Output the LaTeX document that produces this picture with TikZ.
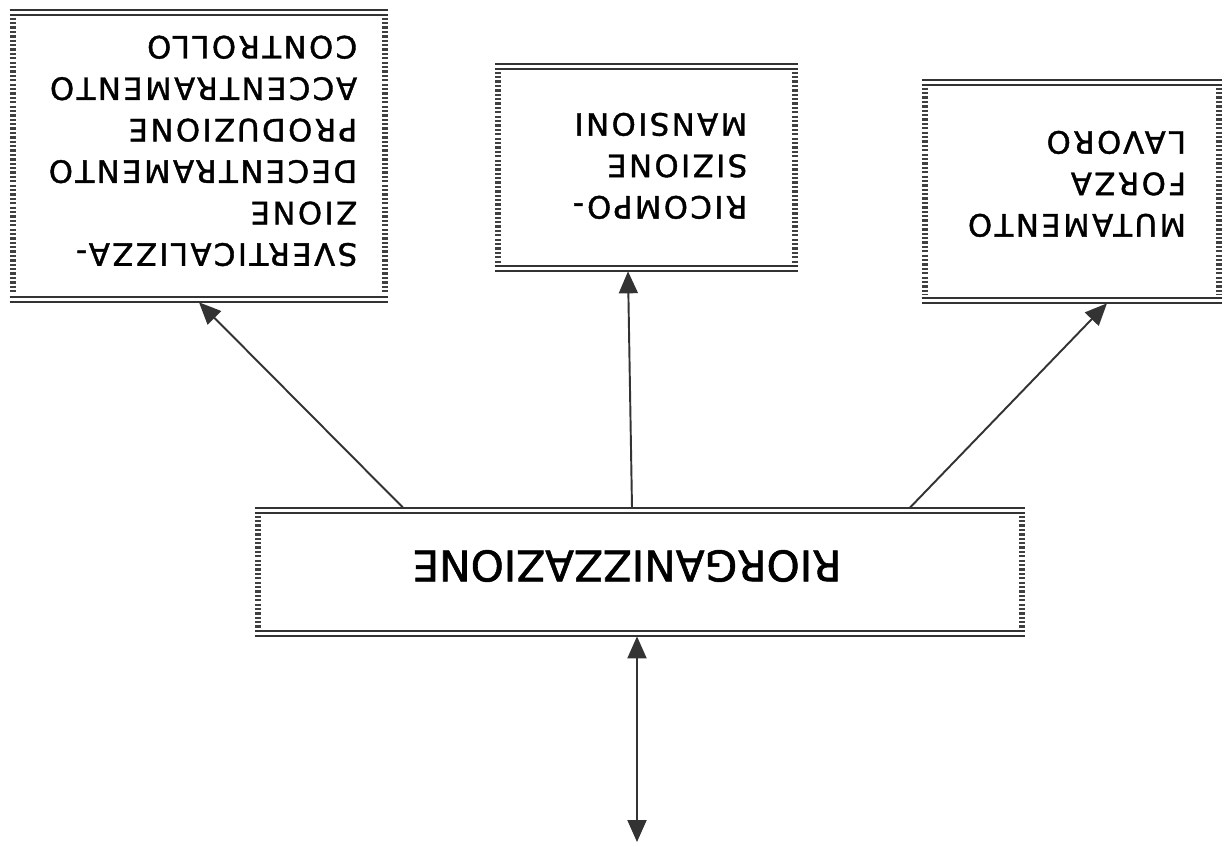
\documentclass[tikz,border=0pt]{standalone}
\usepackage{fontspec}
\setmainfont{DejaVu Sans}
\newfontfamily\boxfont[LetterSpace=8,FakeBold=1.3]{DejaVu Sans}
\newfontfamily\bigfont[FakeBold=1.3]{DejaVu Sans}
\usetikzlibrary{arrows.meta}
\newcommand{\upside}[1]{\rotatebox[origin=c]{180}{\begin{tabular}{@{}l@{}}#1\end{tabular}}}

\begin{document}
\begin{tikzpicture}[
  x=0.02cm, y=-0.02cm,
  box/.style={inner sep=0pt},
  txt/.style={inner sep=0pt, font=\boxfont\fontsize{17.5}{23.6}\selectfont},
  hline/.style={line width=1.1pt, draw=black!80},
  vhatch/.style={line width=0.12cm, draw=black!75, dash pattern=on 1.3pt off 1.2pt},
  tip/.style={-{Triangle[length=0.44cm,width=0.38cm]}},
  arr/.style={line width=1.1pt, draw=black!80, tip}
]
\useasboundingbox (0,0) rectangle (1225,846);

% boxes
\node[box, minimum width=7.56cm, minimum height=5.84cm] (sv) at (199,156) {};
\node[box, minimum width=6.06cm, minimum height=4.14cm] (rc) at (646.5,167.5) {};
\node[box, minimum width=6.0cm, minimum height=4.46cm] (mu) at (1072,191.5) {};
\node[box, minimum width=15.4cm, minimum height=2.56cm] (ri) at (640,572) {};

% texts
\node[txt] (svt) at (203,148)
  {\upside{SVERTICALIZZA-\\ZIONE\\DECENTRAMENTO\\PRODUZIONE\\ACCENTRAMENTO\\CONTROLLO}};
\node[txt] (rct) at (660,163) {\upside{RICOMPO-\\SIZIONE\\MANSIONI}};
\node[txt] (mut) at (1077,181) {\upside{MUTAMENTO\\FORZA\\LAVORO}};
\node[inner sep=0pt, font=\bigfont\fontsize{24}{28}\selectfont] (rit) at (627,566)
  {\rotatebox[origin=c]{180}{RIORGANIZZAZIONE}};

% double lines and hatched sides
\foreach \n in {sv,rc,mu,ri} {
  \draw[hline] (\n.north west) -- (\n.north east);
  \draw[hline] ([yshift=-0.11cm]\n.north west) -- ([yshift=-0.11cm]\n.north east);
  \draw[hline] (\n.south west) -- (\n.south east);
  \draw[hline] ([yshift=0.11cm]\n.south west) -- ([yshift=0.11cm]\n.south east);
  \draw[vhatch] ([xshift=0.07cm,yshift=-0.16cm]\n.north west) -- ([xshift=0.07cm,yshift=0.16cm]\n.south west);
  \draw[vhatch] ([xshift=-0.07cm,yshift=-0.16cm]\n.north east) -- ([xshift=-0.07cm,yshift=0.16cm]\n.south east);
}

\coordinate (fb) at (637,842);

% arrows
\draw[arr] ([xshift=-4.74cm]ri.north) -- (sv.south);
\draw[arr] ([xshift=-0.16cm]ri.north) -- ([xshift=-0.37cm]rc.south);
\draw[arr] ([xshift=5.4cm]ri.north) -- ([xshift=0.7cm]mu.south);
\draw[arr, {Triangle[length=0.44cm,width=0.38cm]}-{Triangle[length=0.44cm,width=0.38cm]}]
  ([xshift=-0.06cm]ri.south) -- (fb);

\end{tikzpicture}
\end{document}
